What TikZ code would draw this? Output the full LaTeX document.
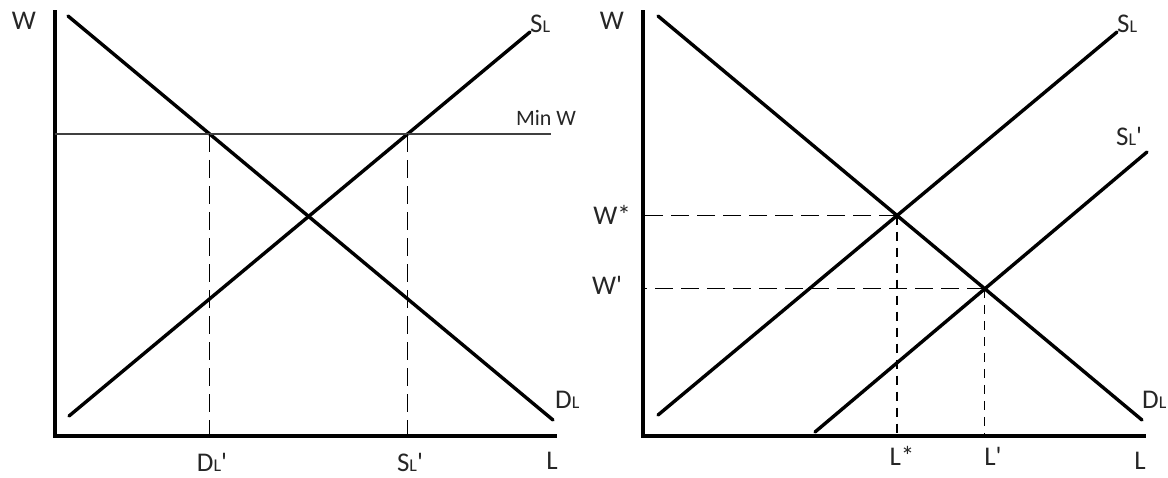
\documentclass[tikz,border=0pt]{standalone}
\usepackage{fontspec}
\setmainfont{Carlito}
\usetikzlibrary{intersections}
\newcommand{\lsubs}[1]{{\fontsize{18}{18}\selectfont #1}}
\newcommand{\pr}{\textquotesingle}
\begin{document}
\begin{tikzpicture}[x=1pt,y=-1pt,
 axis/.style={line width=4pt},
 curve/.style={line width=3.4pt, line cap=round},
 floor/.style={line width=1.4pt, black!75},
 guide/.style={line width=1.2pt, dash pattern=on 18pt off 8pt},
 guidev/.style={line width=1.2pt, dash pattern=on 9pt off 7pt},
 lbl/.style={font=\fontsize{27}{27}\selectfont, text=black!85, inner sep=0pt},
 slbl/.style={font=\fontsize{22}{22}\selectfont, text=black!85, inner sep=0pt},
]
\useasboundingbox (0,0) rectangle (1168,477);
% ---------- left panel ----------
\coordinate (ly) at (55,10);
\coordinate (lo) at (55,436);
\coordinate (lx) at (557,436);
\draw[axis] (ly) -- (lo) -- (lx);
\coordinate (ld1) at (68,16);
\coordinate (ld2) at (553,420);
\coordinate (ls1) at (69,416);
\coordinate (ls2) at (530,32);
\coordinate (mw1) at (55,134);
\coordinate (mw2) at (551,134);
\draw[curve, name path=ld] (ld1) -- (ld2);
\draw[curve, name path=ls] (ls1) -- (ls2);
\draw[floor, name path=mw] (mw1) -- (mw2);
\path[name intersections={of=ld and mw, by=pd}];
\path[name intersections={of=ls and mw, by=ps}];
\draw[guide] (pd) -- (pd |- lo);
\draw[guide] (ps) -- (ps |- lo);
\node[lbl] (lW) at (24,21) {W};
\node[lbl, anchor=west] (lSL) at (530,24) {S\lsubs{L}};
\node[slbl] (lMin) at (546,118) {Min W};
\node[lbl, anchor=west] (lDL) at (555,400) {D\lsubs{L}};
\node[lbl] (lDLp) at (212,462) {D\lsubs{L}\pr};
\node[lbl] (lSLp) at (410,462) {S\lsubs{L}\pr};
\node[lbl] (lL) at (552,461) {L};
% ---------- right panel ----------
\coordinate (ry) at (643,10);
\coordinate (ro) at (643,436);
\coordinate (rx) at (1146,436);
\draw[axis] (ry) -- (ro) -- (rx);
\coordinate (rd1) at (658,16);
\coordinate (rd2) at (1142,420);
\coordinate (rs1) at (658,415);
\coordinate (rs2) at (1117,32);
\coordinate (rt1) at (815,432);
\coordinate (rt2) at (1147,152);
\draw[curve, name path=rd] (rd1) -- (rd2);
\draw[curve, name path=rs] (rs1) -- (rs2);
\draw[curve, name path=rt] (rt1) -- (rt2);
\path[name intersections={of=rd and rs, by=pe}];
\path[name intersections={of=rd and rt, by=pf}];
\draw[guide] (pe) -- (pe -| ro);
\draw[guide] (pf) -- (pf -| ro);
\draw[guidev] (pe) -- (pe |- ro);
\draw[guidev] (pf) -- (pf |- ro);
\node[lbl] (rW) at (612,21) {W};
\node[lbl, anchor=west] (rSL) at (1117,24) {S\lsubs{L}};
\node[lbl, anchor=west] (rSLp) at (1116,136) {S\lsubs{L}\pr};
\node[lbl] (rWs) at (612,215) {W*};
\node[lbl] (rWp) at (607,285) {W\pr};
\node[lbl, anchor=west] (rDL) at (1142,400) {D\lsubs{L}};
\node[lbl] (rLs) at (902,456) {L*};
\node[lbl] (rLp) at (993,456) {L\pr};
\node[lbl] (rL) at (1140,461) {L};
\end{tikzpicture}
\end{document}
